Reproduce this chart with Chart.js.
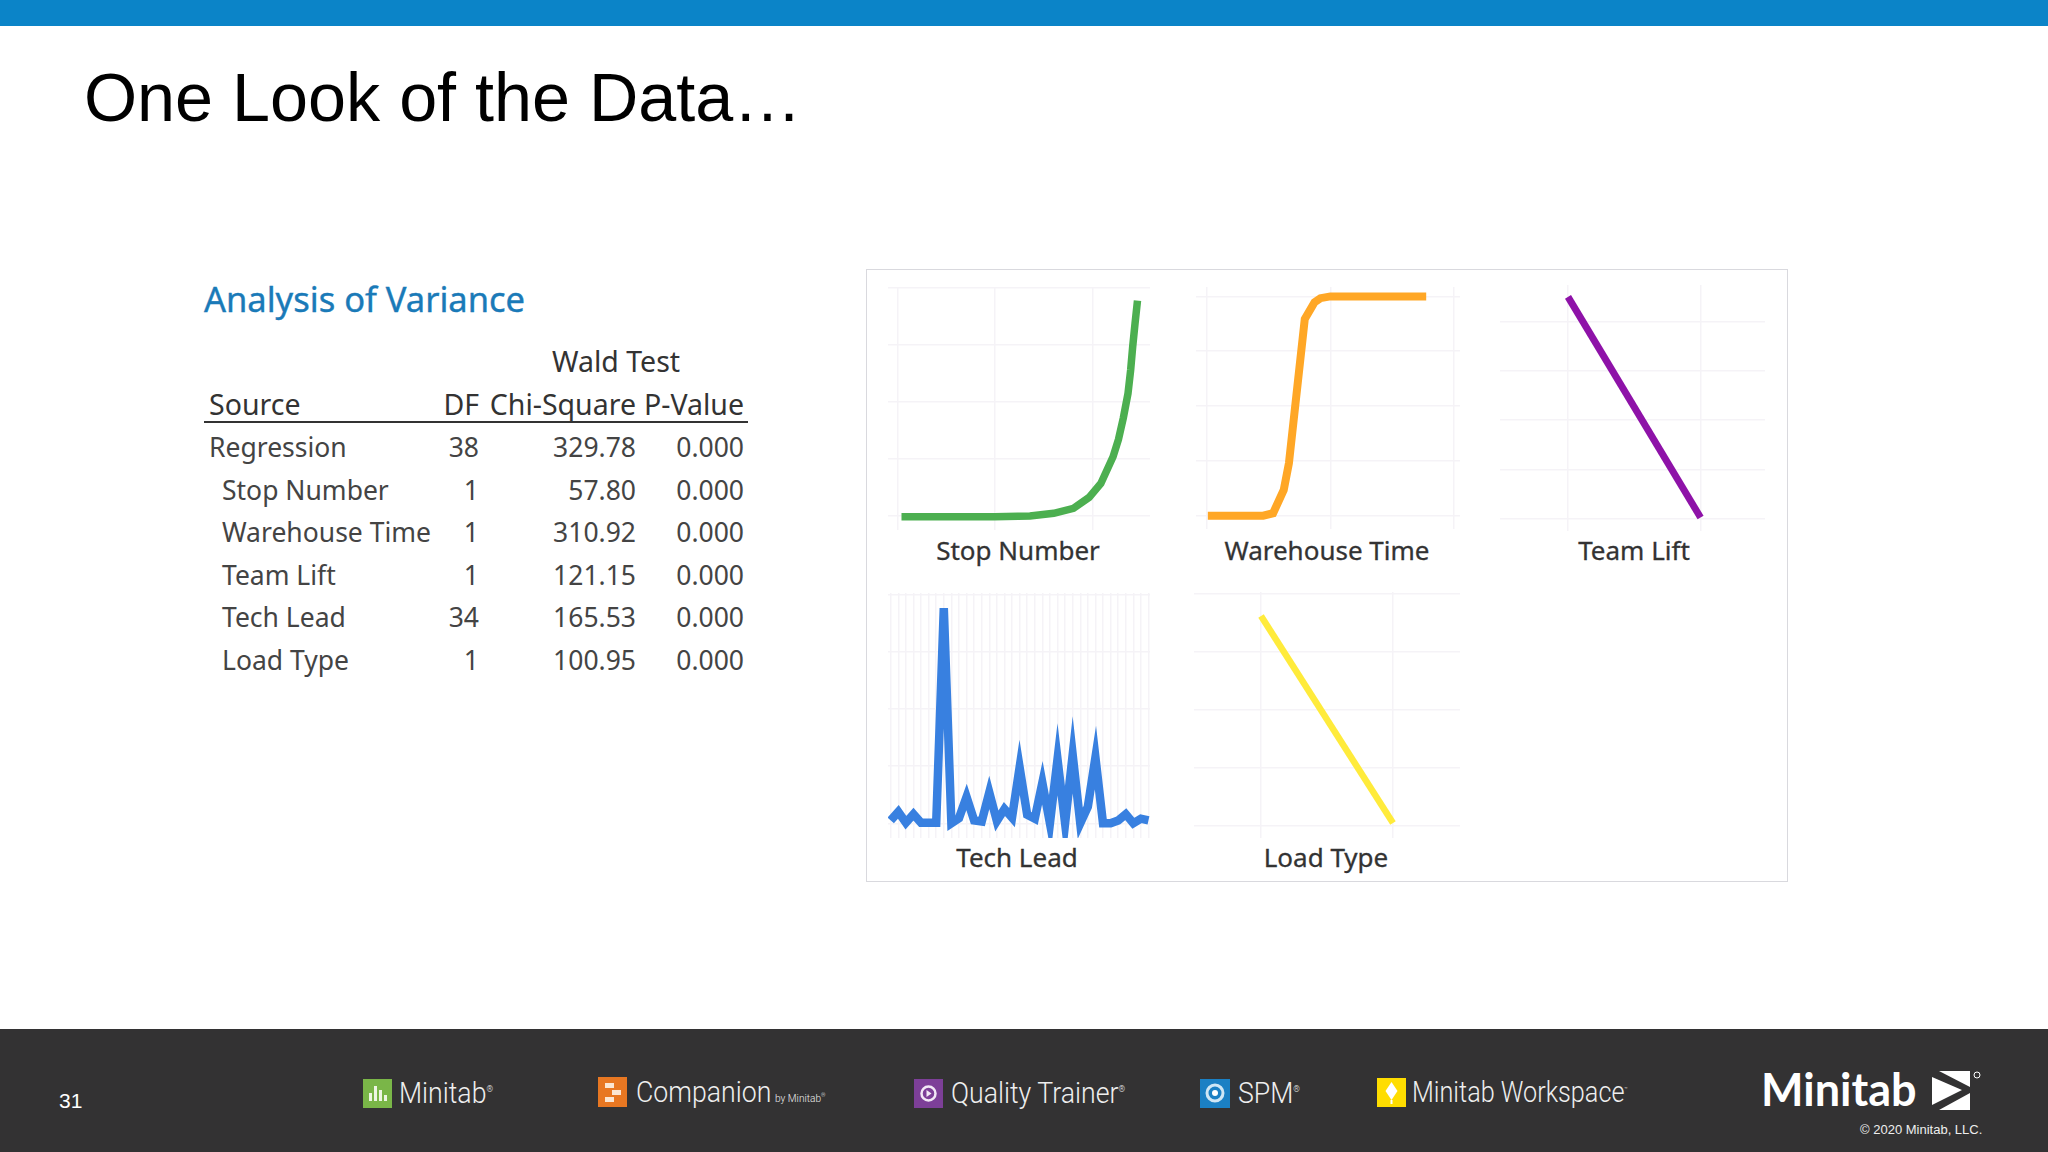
<!DOCTYPE html>
<html>
<head>
<meta charset="utf-8">
<title>One Look of the Data</title>
<script src="https://cdn.jsdelivr.net/npm/chart.js@4"></script>
<style>
	html, body { margin: 0; padding: 0; background: #fff; }
	#slide { position: relative; width: 2048px; height: 1152px; overflow: hidden; background: #fff; font-family: "Noto Sans", sans-serif; }
	#slide > * { position: absolute; }
	#top-bar { left: 0; top: 0; width: 2048px; height: 26px; background: #0b84c8; }
	#title { left: 84px; top: 58px; font: 68.300px "Liberation Sans", sans-serif; color: #000; white-space: nowrap; }
	#anova-title { left: 204px; top: 275px; font-size: 34.500px; color: #1a7ab8; white-space: nowrap; -webkit-text-stroke: 0.4px #1a7ab8; }
	#panel { left: 866px; top: 269px; width: 922px; height: 613px; border: 1.5px solid #d9d9de; box-sizing: border-box; }
	#anova { left: 204px; top: 340px; width: 544px; border-collapse: collapse; font-size: 26.500px; color: #444; table-layout: fixed; }
	#anova td, #anova th { padding: 0; height: 42.5px; font-weight: 400; white-space: nowrap; text-align: right; line-height: 30px; }
	#anova tr.head th { color: #333; font-size: 28.500px; }
	#anova tr.wald th { height: 42px; }
	#anova tr.rule th { height: 39px; line-height: 33px; border-bottom: 2.5px solid #333; vertical-align: bottom; }
	#anova tr.gap td { height: 3px; line-height: 3px; }
	#anova td:first-child, #anova th:first-child { text-align: left; padding-left: 5px; }
	#anova td.sub { padding-left: 18px; }
	#anova td:last-child, #anova th:last-child { padding-right: 4px; }
	.label { font-size: 26px; color: #333; transform: translate(-50%, -50%); white-space: nowrap; -webkit-text-stroke: 0.3px #333; }
	#footer { left: 0; top: 1029px; width: 2048px; height: 123px; background: #333233; }
	.brand { font: 300 29px Roboto, sans-serif; color: #eee; white-space: nowrap; transform: translateY(-50%) scaleX(0.92); transform-origin: left center; }
	.icon { width: 29px; height: 29px; }
</style>
</head>
<body>
<div id="slide">
	<div id="top-bar"></div>
	<div id="title">One Look of the Data…</div>
	<div id="anova-title">Analysis of Variance</div>
	<table id="anova"></table>
	<div id="panel"></div>

	<canvas id="stop-number" width="262" height="243" style="left:888px;top:287px"></canvas>
	<canvas id="warehouse-time" width="264" height="242" style="left:1196px;top:287px"></canvas>
	<canvas id="team-lift" width="265" height="246" style="left:1500px;top:285px"></canvas>
	<canvas id="tech-lead" width="262" height="245" style="left:888px;top:593px"></canvas>
	<canvas id="load-type" width="266" height="246" style="left:1194px;top:592px"></canvas>

	<div class="label" style="left:1018px;top:550px">Stop Number</div>
	<div class="label" style="left:1327px;top:550px">Warehouse Time</div>
	<div class="label" style="left:1634px;top:550px">Team Lift</div>
	<div class="label" style="left:1017px;top:857px">Tech Lead</div>
	<div class="label" style="left:1326px;top:857px">Load Type</div>

	<div id="footer"></div>
	<div style="left:59px;top:1089px;font:21px 'Liberation Sans',sans-serif;color:#fff">31</div>

	<svg class="icon" style="left:363px;top:1079px" viewBox="0 0 29 29"><rect width="29" height="29" fill="#7ab648"/><path d="M6 22v-8h3v8zM11 22V7h3v15zM16 22v-11h3v11zM21 22v-6h3v6z" fill="#eef5e4"/></svg>
	<div class="brand" style="left:399px;top:1093px">Minitab<sup style="font-size:9px">®</sup></div>

	<svg class="icon" style="left:598px;top:1077px;height:30px" viewBox="0 0 29 30"><rect width="29" height="30" fill="#e87722"/><path d="M7 6h9v5H7zM14 13h9v5h-9zM7 20h9v5H7z" fill="#fbe6d3"/></svg>
	<div class="brand" style="left:636px;top:1092px">Companion<span style="font-size:11px;margin-left:4px">by Minitab<sup style="font-size:6px">®</sup></span></div>

	<svg class="icon" style="left:914px;top:1079px" viewBox="0 0 29 29"><rect width="29" height="29" fill="#7d3f98"/><circle cx="14.5" cy="14.5" r="7" fill="none" stroke="#f2e8f6" stroke-width="2.5"/><path d="M12.5 11l5 3.500-5 3.500z" fill="#f2e8f6"/></svg>
	<div class="brand" style="left:951px;top:1093px">Quality Trainer<sup style="font-size:9px">®</sup></div>

	<svg class="icon" style="left:1200px;top:1079px;width:30px" viewBox="0 0 30 29"><rect width="30" height="29" fill="#1b80c4"/><circle cx="15" cy="14" r="8" fill="none" stroke="#cfe6f5" stroke-width="3"/><circle cx="15" cy="14" r="3" fill="#fff"/></svg>
	<div class="brand" style="left:1238px;top:1093px">SPM<sup style="font-size:9px">®</sup></div>

	<svg class="icon" style="left:1377px;top:1078px" viewBox="0 0 29 29"><rect width="29" height="29" fill="#ffdd00"/><path d="M14.500 4l6 9-6 9-6-9z" fill="#fff"/><path d="M14.500 22v4" stroke="#fff" stroke-width="2"/></svg>
	<div class="brand" style="left:1412px;top:1092px;transform:translateY(-50%) scaleX(0.87)">Minitab Workspace<sup style="font-size:6px">™</sup></div>

	<div style="left:1761px;top:1089px;transform:translateY(-50%);font:700 45px Lato,sans-serif;color:#fff;white-space:nowrap">Minitab</div>
	<svg style="left:1932px;top:1071px" width="50" height="40" viewBox="0 0 50 40"><path d="M0 6L30 19L0 34zM7 0H38V16zM7 39L38 22V39z" fill="#fff"/><circle cx="45" cy="4" r="3" fill="none" stroke="#fff" stroke-width="1"/></svg>
	<div style="left:1860px;top:1122px;font:13px 'Liberation Sans',sans-serif;color:#eee;white-space:nowrap">© 2020 Minitab, LLC.</div>
</div>

<script>
const sources = ['Regression', 'Stop Number', 'Warehouse Time', 'Team Lift', 'Tech Lead', 'Load Type'];
const dfValues = ['38', '1', '1', '1', '34', '1'];
const chiSquareValues = ['329.78', '57.80', '310.92', '121.15', '165.53', '100.95'];
const pValues = ['0.000', '0.000', '0.000', '0.000', '0.000', '0.000'];

const stopNumberX = [0.41, 9.9, 13.55, 15.98, 18.0, 19.6, 20.8, 22.05, 22.6, 23.1, 23.58, 23.85, 24.06, 24.3, 24.55];
const stopNumberY = [-0.003, -0.003, 0, 0.012, 0.034, 0.082, 0.143, 0.26, 0.335, 0.43, 0.538, 0.64, 0.743, 0.845, 0.944];

const warehouseTimeX = [0.1, 4.57, 5.37, 6.23, 6.65, 7.93, 8.72, 9.2, 10, 17.74];
const warehouseTimeY = [0, 0, 0.011, 0.117, 0.239, 0.897, 0.973, 0.992, 1, 1];

const teamLiftX = [0, 1];
const teamLiftY = [0.9, 0.005];

const techLeadX = [0, 1, 2, 3, 4, 5, 6, 7, 8, 9, 10, 11, 12, 13, 14, 15, 16, 17, 18, 19, 20, 21, 22, 23, 24, 25, 26, 27, 28, 29, 30, 31, 32, 33, 34];
const techLeadY = [0.05, 0.2, 0.01, 0.16, 0.01, 0.01, 0.01, 3.77, 0, 0.09, 0.46, 0.05, 0.03, 0.54, 0.04, 0.25, 0.1, 0.98, 0.15, 0.08, 0.71, 0, 1.12, 0, 1.2, 0, 0.29, 1.15, 0, 0, 0.05, 0.16, 0, 0.08, 0.05];

const loadTypeX = [0, 1];
const loadTypeY = [0.724, 0.01];

// sharp peaks on the tech lead line need a higher limit than the canvas default
const sharpJoins = {
	id: 'sharpJoins',
	beforeDatasetsDraw(chart) {
		chart.ctx.miterLimit = 18;
	}
};

function buildTable() {
	const table = document.getElementById('anova');
	let html = '<colgroup><col style="width:237px"><col style="width:38px"><col style="width:157px"><col style="width:112px"></colgroup>';
	html += '<tr class="head wald"><th></th><th></th><th colspan="2" style="text-align:left;padding-left:73px">Wald Test</th></tr>';
	html += '<tr class="head rule"><th>Source</th><th>DF</th><th>Chi-Square</th><th>P-Value</th></tr>';
	html += '<tr class="gap"><td colspan="4"></td></tr>';
	sources.forEach((source, i) => {
		const cls = i === 0 ? '' : ' class="sub"';
		html += `<tr><td${cls}>${source}</td><td>${dfValues[i]}</td><td>${chiSquareValues[i]}</td><td>${pValues[i]}</td></tr>`;
	});
	table.innerHTML = html;
}

function axisOptions(axis) {
	return {
		min: axis.min,
		max: axis.max,
		afterBuildTicks: scale => { scale.ticks = axis.ticks.map(value => ({ value: value })); },
		ticks: { display: false },
		border: { display: false },
		grid: { color: '#f5f3f7', lineWidth: 1.5, drawTicks: false }
	};
}

function drawLine(id, xValues, yValues, color, width, xAxis, yAxis) {
	new Chart(document.getElementById(id), {
		type: 'scatter',
		data: {
			datasets: [{
				data: xValues.map((x, i) => ({ x: x, y: yValues[i] })),
				showLine: true,
				borderColor: color,
				borderWidth: width,
				pointRadius: 0,
				tension: 0
			}]
		},
		options: {
			responsive: false,
			animation: false,
			layout: { padding: 0 },
			plugins: { legend: { display: false }, tooltip: { enabled: false } },
			scales: {
				x: axisOptions(xAxis),
				y: axisOptions(yAxis)
			}
		},
		plugins: [sharpJoins]
	});
}

buildTable();

drawLine('stop-number', stopNumberX, stopNumberY, '#4caf50', 7.5,
	{ min: -0.97, max: 25.83, ticks: [0, 10, 20] },
	{ min: -0.061, max: 1.004, ticks: [0, 0.25, 0.5, 0.75, 1] });
drawLine('warehouse-time', warehouseTimeX, warehouseTimeY, '#ffa726', 8,
	{ min: -0.857, max: 20.47, ticks: [0, 10, 20] },
	{ min: -0.061, max: 1.043, ticks: [0, 0.25, 0.5, 0.75, 1] });
drawLine('team-lift', teamLiftX, teamLiftY, '#8e12a8', 7,
	{ min: -0.513, max: 1.486, ticks: [0, 1] },
	{ min: -0.05, max: 0.948, ticks: [0, 0.2, 0.4, 0.6, 0.8] });
drawLine('tech-lead', techLeadX, techLeadY, '#3880e0', 8.5,
	{ min: -0.36, max: 34.2, ticks: techLeadX },
	{ min: -0.258, max: 4.035, ticks: [0, 1, 2, 3, 4] });
drawLine('load-type', loadTypeX, loadTypeY, '#ffeb3b', 6.5,
	{ min: -0.508, max: 1.508, ticks: [0, 1] },
	{ min: -0.042, max: 0.807, ticks: [0, 0.2, 0.4, 0.6, 0.8] });
</script>
</body>
</html>
